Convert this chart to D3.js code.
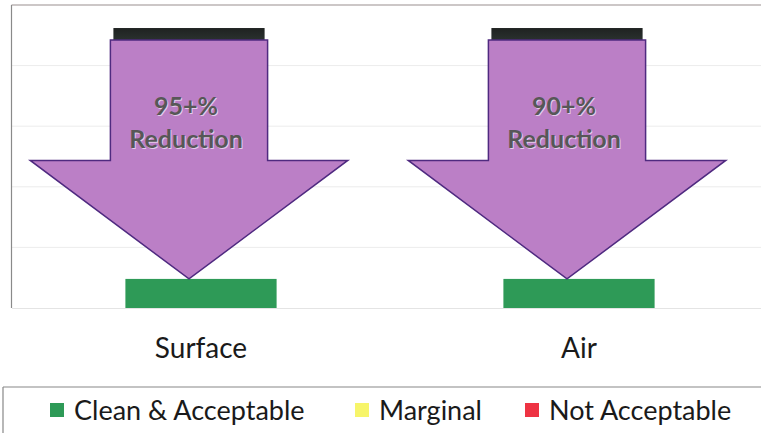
<!DOCTYPE html>
<html><head><meta charset="utf-8">
<script src="https://cdn.jsdelivr.net/npm/d3@7"></script>
<style>body{margin:0;background:#fff}svg{display:block}</style>
</head><body>
<svg id="c" width="761" height="433"></svg>
<script>
const categories = ["Surface", "Air"];
const beforeValues = [4.62, 4.62];
const afterValues = [0.48, 0.48];
const reductionLabels = ["95+%", "90+%"];
const yTicks = [1, 2, 3, 4, 5];
const legendLabels = ["Clean & Acceptable", "Marginal", "Not Acceptable"];
const legendColors = ["#2e9a57", "#f7f56a", "#ee3343"];

const svg = d3.select("#c");
const plot = {left: 12, right: 768, top: 5, bottom: 308};
const x = d3.scaleBand().domain(categories).range([plot.left, plot.right]).padding(0);
const y = d3.scaleLinear().domain([0, 5]).range([plot.bottom, plot.top]);
const barW = x.bandwidth() * 0.4;
const shift = -12;
const font = "Lato, 'Open Sans', sans-serif";

// gridlines
svg.append("g").selectAll("line").data(yTicks.slice(0, -1)).join("line")
  .attr("x1", plot.left).attr("x2", 761)
  .attr("y1", d => y(d)).attr("y2", d => y(d))
  .attr("stroke", "#ececec").attr("stroke-width", 1);
// baseline
svg.append("line").attr("x1", plot.left).attr("x2", 761)
  .attr("y1", y(0) + 0.5).attr("y2", y(0) + 0.5).attr("stroke", "#e4e4e4");
// plot border
svg.append("line").attr("x1", plot.left - 0.5).attr("x2", 761).attr("y1", plot.top).attr("y2", plot.top)
  .attr("stroke", "#9a8f90").attr("stroke-width", 1.2);
svg.append("line").attr("x1", plot.left - 0.5).attr("x2", plot.left - 0.5).attr("y1", plot.top).attr("y2", y(0))
  .attr("stroke", "#8a8a8a").attr("stroke-width", 1.2);

const defs = svg.append("defs");
const g1 = defs.append("linearGradient").attr("id", "dark").attr("x1", 0).attr("y1", 0).attr("x2", 0).attr("y2", 1);
g1.append("stop").attr("offset", "0%").attr("stop-color", "#1f2221");
g1.append("stop").attr("offset", "100%").attr("stop-color", "#3b4743");

// before bars (dark cap, the rest hidden by the arrows)
svg.append("g").selectAll("rect").data(categories).join("rect")
  .attr("x", (d) => x(d) + x.bandwidth() / 2 + shift - barW / 2)
  .attr("width", barW)
  .attr("y", (d, i) => y(beforeValues[i]))
  .attr("height", (d, i) => y(beforeValues[i] - 0.5) - y(beforeValues[i]))
  .attr("fill", "url(#dark)");

// after bars (green)
svg.append("g").selectAll("rect").data(categories).join("rect")
  .attr("x", d => x(d) + x.bandwidth() / 2 - barW / 2)
  .attr("width", barW)
  .attr("y", (d, i) => y(afterValues[i]))
  .attr("height", (d, i) => y(0) - y(afterValues[i]))
  .attr("fill", legendColors[0]);

// reduction arrows
const arrow = (d, i) => {
  const cx = x(d) + x.bandwidth() / 2 + shift;
  const top = y(beforeValues[i]) + 12;
  const tip = y(afterValues[i]);
  const headTop = (top + tip) / 2 + 1;
  const bw = barW / 2 + 3, hw = barW * 1.05;
  return `M${cx - bw},${top}L${cx + bw},${top}L${cx + bw},${headTop}L${cx + hw},${headTop}L${cx},${tip}L${cx - hw},${headTop}L${cx - bw},${headTop}Z`;
};
svg.append("g").selectAll("path").data(categories).join("path")
  .attr("d", arrow)
  .attr("fill", "#bb7fc6")
  .attr("stroke", "#4f2a80").attr("stroke-width", 1.5).attr("stroke-linejoin", "miter");

// arrow labels
const labG = svg.append("g").attr("font-family", font).attr("font-weight", "bold")
  .attr("font-size", 25).attr("text-anchor", "middle");
categories.forEach((d, i) => {
  const cx = x(d) + x.bandwidth() / 2 + shift - 3;
  [[reductionLabels[i], 115], ["Reduction", 148]].forEach(([t, yy]) => {
    labG.append("text").attr("x", cx + 1).attr("y", yy + 1).attr("fill", "#e6cdea").text(t);
    labG.append("text").attr("x", cx).attr("y", yy).attr("fill", "#575757").text(t);
  });
});

// category axis labels
svg.append("g").selectAll("text").data(categories).join("text")
  .attr("x", d => x(d) + x.bandwidth() / 2)
  .attr("y", 358)
  .attr("text-anchor", "middle")
  .attr("font-family", font).attr("font-size", 28).attr("fill", "#1a1a1a")
  .text(d => d);

// legend box
svg.append("line").attr("x1", 3).attr("x2", 761).attr("y1", 387).attr("y2", 387).attr("stroke", "#888").attr("stroke-width", 1.2);
svg.append("line").attr("x1", 3).attr("x2", 3).attr("y1", 387).attr("y2", 433).attr("stroke", "#888").attr("stroke-width", 1.2);

const legendX = [50, 355, 525];
const lg = svg.append("g").selectAll("g").data(legendLabels).join("g")
  .attr("transform", (d, i) => `translate(${legendX[i]},0)`);
lg.append("rect").attr("x", 0).attr("y", 403).attr("width", 14).attr("height", 14)
  .attr("fill", (d, i) => legendColors[i]);
lg.append("text").attr("x", 24).attr("y", 420)
  .attr("font-family", font).attr("font-size", 27).attr("fill", "#1a1a1a")
  .text(d => d);
</script>
</body></html>
